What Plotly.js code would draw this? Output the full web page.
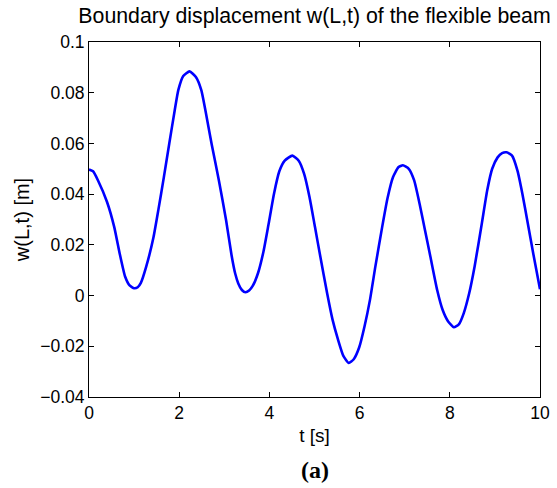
<!DOCTYPE html>
<html>
<head>
<meta charset="utf-8">
<script src="https://cdn.plot.ly/plotly-3.0.1.min.js"></script>
<style>html,body{margin:0;padding:0;background:#fff;}#chart{width:557px;height:488px;}</style>
</head>
<body>
<div id="chart"></div>
<script>
var timeS = [0, 0.09, 0.2, 0.4, 0.56, 0.68, 0.8, 0.9, 1.0, 1.08, 1.15, 1.27, 1.43, 1.54, 1.66, 1.78, 1.9, 1.98, 2.09, 2.23, 2.37, 2.49, 2.65, 2.72, 2.88, 3.04, 3.16, 3.24, 3.31, 3.39, 3.47, 3.55, 3.63, 3.75, 3.87, 3.98, 4.1, 4.22, 4.34, 4.51, 4.65, 4.77, 4.89, 5.01, 5.13, 5.28, 5.4, 5.52, 5.64, 5.76, 5.87, 5.99, 6.11, 6.23, 6.35, 6.5, 6.62, 6.74, 6.86, 6.96, 7.09, 7.21, 7.33, 7.45, 7.57, 7.72, 7.84, 7.96, 8.09, 8.2, 8.31, 8.43, 8.55, 8.71, 8.83, 8.94, 9.06, 9.16, 9.26, 9.38, 9.5, 9.61, 9.73, 9.85, 10];
var displacement = [0.0497, 0.049, 0.0454, 0.0369, 0.027, 0.0166, 0.0075, 0.004, 0.0029, 0.0033, 0.005, 0.0115, 0.023, 0.034, 0.0467, 0.06, 0.073, 0.0810, 0.0866, 0.0884, 0.0862, 0.081, 0.0664, 0.0597, 0.0454, 0.0297, 0.0160, 0.0088, 0.0048, 0.0022, 0.0013, 0.0020, 0.0038, 0.009, 0.0175, 0.028, 0.0400, 0.049, 0.0532, 0.0552, 0.0532, 0.048, 0.0388, 0.0271, 0.0153, 0.0009, -0.0095, -0.0173, -0.0238, -0.0266, -0.0251, -0.0205, -0.0121, -0.0017, 0.0115, 0.027, 0.0385, 0.0467, 0.0506, 0.0514, 0.05, 0.0454, 0.0362, 0.0258, 0.0153, 0.0022, -0.0056, -0.0101, -0.0125, -0.0114, -0.0069, 0.0009, 0.0115, 0.0284, 0.0415, 0.0500, 0.0545, 0.0562, 0.0565, 0.0552, 0.0493, 0.0401, 0.0284, 0.0166, 0.0025];
var xTickVals = [0, 2, 4, 6, 8, 10];
var xTickText = ['0', '2', '4', '6', '8', '10'];
var yTickVals = [-0.04, -0.02, 0, 0.02, 0.04, 0.06, 0.08, 0.1];
var yTickText = ['\u22120.04', '\u22120.02', '0', '0.02', '0.04', '0.06', '0.08', '0.1'];

var font = 'Liberation Sans, Arial, Helvetica, sans-serif';
var trace = {
  x: timeS, y: displacement, type: 'scatter', mode: 'lines',
  line: {color: '#0000FF', width: 2.6, shape: 'spline', smoothing: 0.5}, hoverinfo: 'skip'
};
var axisCommon = {
  showline: true, linecolor: '#000', linewidth: 1, mirror: 'ticks',
  ticks: 'inside', ticklen: 5, tickcolor: '#000', tickwidth: 1,
  showgrid: false, zeroline: false, tickfont: {family: font, size: 17.5, color: '#000'}
};
var layout = {
  width: 557, height: 488,
  margin: {l: 89, r: 17, t: 42, b: 91, pad: 0},
  paper_bgcolor: '#fff', plot_bgcolor: '#fff',
  showlegend: false,
  title: {text: 'Boundary displacement w(L,t) of the flexible beam',
    font: {family: font, size: 21.3, color: '#000'},
    x: 0.5647, xanchor: 'center', xref: 'container', y: 1 - 16 / 488, yanchor: 'middle', yref: 'container'},
  xaxis: Object.assign({}, axisCommon, {
    range: [0, 10], tickmode: 'array', tickvals: xTickVals, ticktext: xTickText,
    title: {text: 't [s]', font: {family: font, size: 19, color: '#000'}, standoff: 6}
  }),
  yaxis: Object.assign({}, axisCommon, {
    range: [-0.04, 0.1], tickmode: 'array', tickvals: yTickVals, ticktext: yTickText,
    title: {text: 'w(L,t) [m]', font: {family: font, size: 20, color: '#000'}, standoff: 5}
  }),
  annotations: [{
    text: '<b>(a)</b>', xref: 'paper', yref: 'paper', x: 0.5, y: -0.205,
    xanchor: 'center', yanchor: 'middle', showarrow: false,
    font: {family: 'Liberation Serif, Times New Roman, serif', size: 24, color: '#000'}
  }]
};
Plotly.newPlot('chart', [trace], layout, {displayModeBar: false, staticPlot: true});
</script>
</body>
</html>
